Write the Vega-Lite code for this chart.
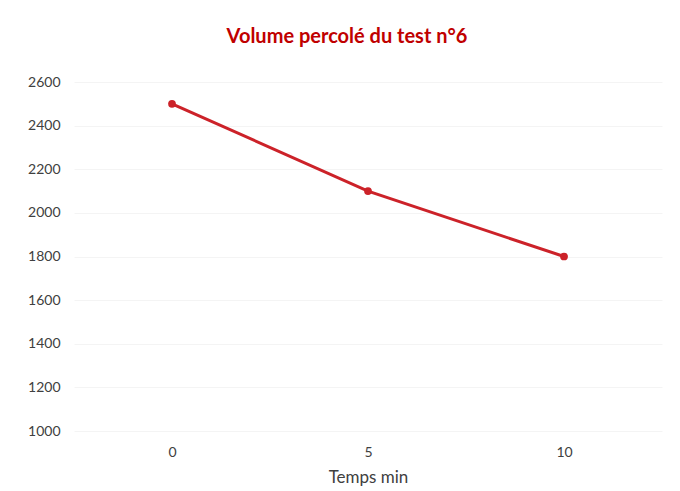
{
  "$schema": "https://vega.github.io/schema/vega-lite/v6.json",
  "autosize": {"type": "none"},
  "width": 588,
  "height": 349,
  "padding": {"left": 74, "top": 82, "right": 18, "bottom": 60},
  "background": "white",
  "title": {
    "text": "Volume percolé du test n°6",
    "color": "#C00000",
    "font": "Lato",
    "fontSize": 20,
    "fontWeight": "bold",
    "anchor": "middle",
    "dx": -21,
    "offset": 28
  },
  "config": {
    "view": {"stroke": null},
    "font": "Lato"
  },
  "data": {
    "values": [
      {"temps": "0", "volume": 2500},
      {"temps": "5", "volume": 2100},
      {"temps": "10", "volume": 1800}
    ]
  },
  "mark": {"type": "line", "color": "#CC2229", "strokeWidth": 3, "point": {"filled": true, "color": "#CC2229", "size": 60}},
  "encoding": {
    "x": {
      "field": "temps",
      "type": "ordinal",
      "sort": null,
      "scale": {"type": "point", "padding": 0.5},
      "axis": {
        "title": "Temps min",
        "titleFont": "Lato",
        "titleFontSize": 17,
        "titleFontWeight": "normal",
        "titleColor": "#404040",
        "titlePadding": 10,
        "labelAngle": 0,
        "labelFontSize": 14,
        "labelColor": "#404040",
        "labelPadding": 14,
        "domain": false,
        "ticks": false,
        "grid": false
      }
    },
    "y": {
      "field": "volume",
      "type": "quantitative",
      "scale": {"domain": [1000, 2600], "zero": false, "nice": false},
      "axis": {
        "title": null,
        "format": "d",
        "values": [1000, 1200, 1400, 1600, 1800, 2000, 2200, 2400, 2600],
        "labelFontSize": 14,
        "labelColor": "#404040",
        "labelPadding": 14,
        "domain": false,
        "ticks": false,
        "grid": true,
        "gridColor": "#f4f4f4"
      }
    }
  }
}
